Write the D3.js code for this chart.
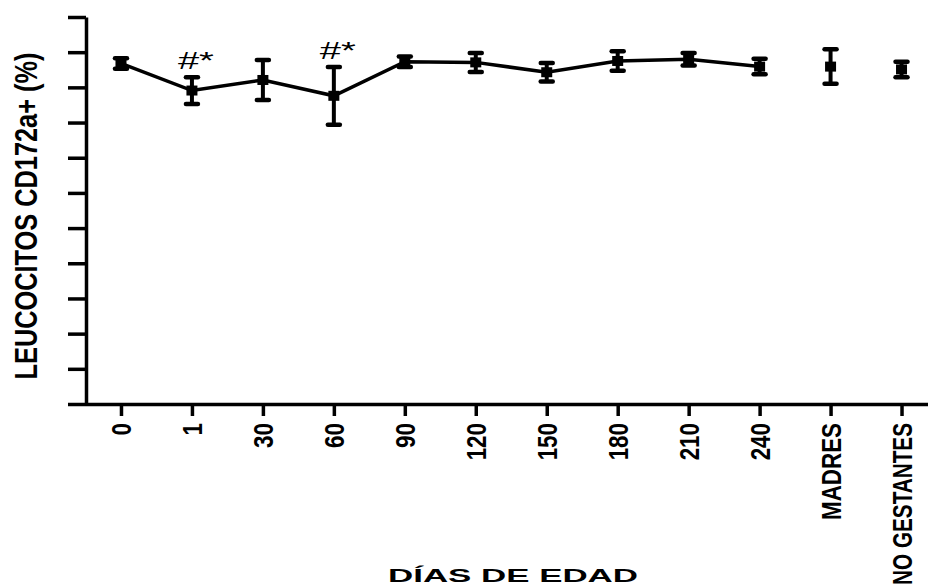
<!DOCTYPE html>
<html><head><meta charset="UTF-8">
<style>
body { margin: 0; background: #fff; }
text { font-family: "Liberation Sans", Arial, sans-serif; }
</style>
<script src="https://cdn.jsdelivr.net/npm/d3@7"></script>
</head><body>
<div id="chart"></div>
<script>
// categories on the x axis (days of age + two reference groups)
var categories = ["0", "1", "30", "60", "90", "120", "150", "180", "210", "240", "MADRES", "NO GESTANTES"];
// mean % of CD172a+ leucocytes
var means = [96.8, 89.1, 92.1, 87.6, 97.3, 97.1, 94.3, 97.5, 98.0, 95.9, 95.9, 95.1];
// error bar half-length
var errors = [1.5, 3.8, 5.7, 8.2, 1.5, 2.7, 2.6, 2.8, 1.8, 2.2, 4.9, 2.2];
// only the days are joined by the line
var lineCats = ["0", "1", "30", "60", "90", "120", "150", "180", "210", "240"];
// significance marks
var markCats = ["1", "60"];
var markText = "#*";
var yTicks = d3.range(0, 111, 10);

var width = 928, height = 588;

var svg = d3.select("#chart").append("svg")
    .attr("width", width)
    .attr("height", height);

var data = categories.map(function(c, i) {
  return {cat: c, y: means[i], e: errors[i]};
});

var x = d3.scalePoint()
    .domain(categories)
    .range([85.5, 937])
    .padding(0.5);

var y = d3.scaleLinear()
    .domain([0, 110])
    .range([404, 17]);

// y axis, no labels
var gy = svg.append("g")
    .attr("transform", "translate(86,0)")
    .call(d3.axisLeft(y).tickValues(yTicks).tickSize(18).tickSizeOuter(0).tickFormat(""));
gy.selectAll("path, line").attr("stroke-width", 3.5);

// x axis
var gx = svg.append("g")
    .attr("transform", "translate(0,404)")
    .call(d3.axisBottom(x).tickSize(12).tickSizeOuter(0));
gx.select(".domain").attr("stroke-width", 3.5);
gx.selectAll(".tick line").attr("stroke-width", 3.5);
// condensed rotated labels; long ones squeezed so they stay on the page
gx.selectAll(".tick text")
    .attr("font-family", "Liberation Sans, Arial, sans-serif")
    .attr("font-size", 28)
    .attr("font-weight", "bold")
    .attr("fill", "#000")
    .attr("text-anchor", "end")
    .attr("dy", null)
    .attr("y", 10)
    .each(function() {
      var len = this.getComputedTextLength();
      var sx = Math.min(0.8, 162 / len);
      d3.select(this)
        .attr("x", -19 / sx)
        .attr("transform", "rotate(-90) scale(" + sx + ",1)");
    });

// connecting line
var line = d3.line()
    .x(function(d) { return x(d.cat); })
    .y(function(d) { return y(d.y); });

svg.append("path")
    .datum(data.filter(function(d) { return lineCats.indexOf(d.cat) >= 0; }))
    .attr("fill", "none")
    .attr("stroke", "#000")
    .attr("stroke-width", 3.5)
    .attr("d", line);

// error bars
var eb = svg.selectAll(".err").data(data).enter().append("g").attr("class", "err");
eb.append("line")
    .attr("x1", function(d) { return x(d.cat); })
    .attr("x2", function(d) { return x(d.cat); })
    .attr("y1", function(d) { return y(d.y + d.e); })
    .attr("y2", function(d) { return y(d.y - d.e); })
    .attr("stroke", "#000").attr("stroke-width", 4);
[1, -1].forEach(function(s) {
  eb.append("line")
      .attr("x1", function(d) { return x(d.cat) - 6; })
      .attr("x2", function(d) { return x(d.cat) + 6; })
      .attr("y1", function(d) { return y(d.y + s * d.e); })
      .attr("y2", function(d) { return y(d.y + s * d.e); })
      .attr("stroke", "#000").attr("stroke-width", 4.5)
      .attr("stroke-linecap", "round");
});

// square markers
svg.selectAll(".dot").data(data).enter().append("rect")
    .attr("class", "dot")
    .attr("x", function(d) { return x(d.cat) - 5.5; })
    .attr("y", function(d) { return y(d.y) - 5; })
    .attr("width", 11)
    .attr("height", 10)
    .attr("fill", "#000");

// #* marks
svg.selectAll(".mark").data(data.filter(function(d) { return markCats.indexOf(d.cat) >= 0; }))
  .enter().append("text")
    .attr("class", "mark")
    .attr("x", function(d) { return x(d.cat) + 4; })
    .attr("y", function(d) { return y(d.y + d.e) - 8; })
    .attr("text-anchor", "middle")
    .attr("font-size", 24)
    .attr("textLength", 36)
    .attr("lengthAdjust", "spacingAndGlyphs")
    .text(markText);

// axis titles
var yTitle = svg.append("text")
    .attr("text-anchor", "middle")
    .attr("font-size", 31)
    .attr("font-weight", "bold")
    .text("LEUCOCITOS CD172a+ (%)");
var ys = 327 / yTitle.node().getComputedTextLength();
yTitle.attr("transform", "translate(37,216) rotate(-90) scale(" + ys + ",1)");

svg.append("text")
    .attr("x", 513)
    .attr("y", 582)
    .attr("text-anchor", "middle")
    .attr("font-size", 18)
    .attr("font-weight", "bold")
    .attr("textLength", 250)
    .attr("lengthAdjust", "spacingAndGlyphs")
    .text("DÍAS DE EDAD");
</script>
</body></html>
